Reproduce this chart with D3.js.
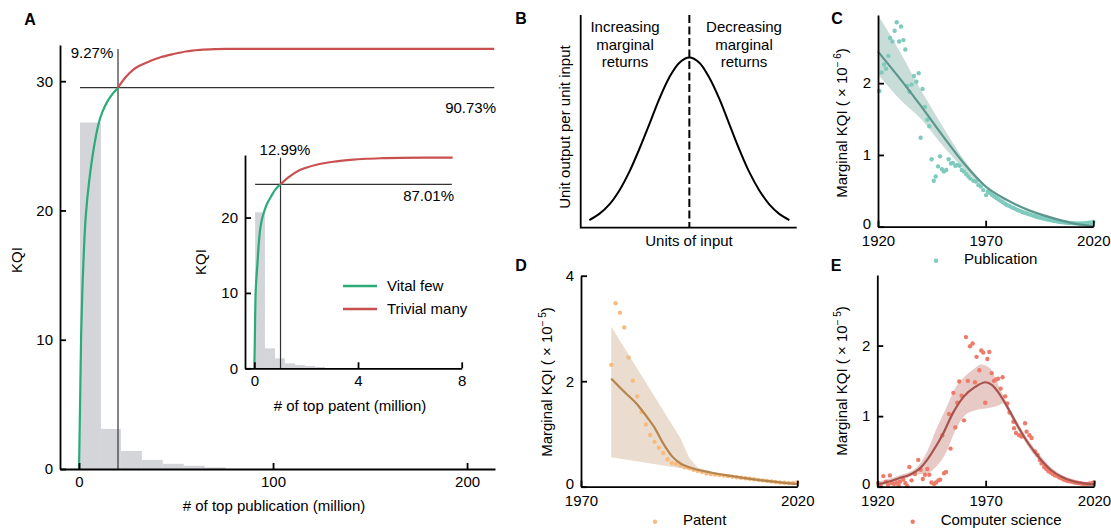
<!DOCTYPE html>
<html><head><meta charset="utf-8">
<script src="https://cdn.jsdelivr.net/npm/d3@7"></script>
<style>
body{margin:0;background:#fff;}
svg text{font-family:"Liberation Sans",Arial,Helvetica,sans-serif;fill:#000;}
</style></head><body>
<svg id="chart" width="1111" height="529"></svg>
<script>
// ---------------- DATA ----------------
// Panel A (main: publications)
const aXTicks = [0, 100, 200];
const aYTicks = [0, 10, 20, 30];
const aBinEdges = [0.5, 11.3, 21.6, 32.4, 43.2, 54.0, 64.8, 75.6];
const aBinHeights = [26.8, 3.1, 1.4, 0.7, 0.4, 0.25, 0.12];
const aVitalFew = [[0,0],[0.5,4.6],[1.05,10],[1.4,12],[1.9,14.6],[2.6,17.2],[3.6,19.8],[5.3,22.35],[7.7,24.9],[9.9,26.6],[12,27.6],[14.5,28.4],[17.2,29.0],[20.1,29.5]];
const aTrivialMany = [[20.1,29.5],[24,30.3],[28,30.9],[32,31.25],[36.6,31.55],[42,31.85],[48.6,32.1],[55,32.3],[62.4,32.42],[70,32.48],[76,32.5],[100,32.5],[150,32.5],[214,32.5]];
const aCut = {x: 20.1, y: 29.5};
const aLabels = ["9.27%", "90.73%"];
// Panel A inset (patents)
const iXTicks = [0, 4, 8];
const iYTicks = [0, 10, 20];
const iBinEdges = [0.03, 0.41, 0.80, 1.18, 1.57, 1.95, 2.34, 2.72];
const iBinHeights = [20.7, 2.65, 1.32, 0.66, 0.44, 0.3, 0.18];
const iVitalFew = [[0,0],[0.02,4],[0.05,10],[0.08,12],[0.12,13.9],[0.16,16],[0.22,18.3],[0.29,19.7],[0.37,20.7],[0.5,21.9],[0.63,22.7],[0.83,23.8],[1.01,24.4]];
const iTrivialMany = [[1.01,24.4],[1.3,25.3],[1.76,26.3],[2.4,27.0],[3.04,27.4],[3.7,27.65],[4.32,27.8],[5,27.88],[5.6,27.93],[7.65,27.95]];
const iCut = {x: 1.01, y: 24.4};
const iLabels = ["12.99%", "87.01%"];
const legendNames = ["Vital few", "Trivial many"];
// Panel B (concept curve)
const bX = [0.40,0.86,1.33,1.79,2.25,2.71,3.18,3.64,4.10,4.57,5.03,5.49,5.95,6.42,6.88,7.34,7.80,8.27,8.73,9.19,9.66];
const bY = [0.045,0.081,0.137,0.219,0.328,0.461,0.609,0.757,0.883,0.970,1,0.970,0.883,0.757,0.609,0.461,0.328,0.219,0.137,0.081,0.045];
const bPeak = 5.03;
const bLeftText = ["Increasing", "marginal", "returns"];
const bRightText = ["Decreasing", "marginal", "returns"];
// Panel C (publication)
const cXTicks = [1920, 1970, 2020];
const cYTicks = [0, 1, 2];
const cPoints = [[1920.6,1.89],[1921.7,2.15],[1922.8,2.26],[1923.7,2.20],[1924.8,2.38],[1925.6,2.63],[1926.7,2.58],[1927.7,2.73],[1928.7,2.85],[1929.8,2.58],[1930.7,2.79],[1931.8,2.60],[1932.7,2.47],[1933.6,1.96],[1934.6,1.88],[1935.6,1.98],[1936.7,2.10],[1937.8,2.02],[1938.9,2.14],[1939.8,1.24],[1940.7,1.92],[1941.8,1.67],[1942.9,1.49],[1943.8,1.40],[1944.9,0.94],[1945.9,0.64],[1946.8,0.70],[1947.9,0.84],[1948.8,0.98],[1949.7,0.80],[1950.6,0.77],[1951.7,0.79],[1952.8,0.94],[1953.9,0.88],[1954.8,0.89],[1955.9,0.85],[1956.8,0.86],[1957.9,0.85],[1958.9,0.79],[1959.9,0.77],[1961,0.73],[1962,0.70],[1962.9,0.67],[1964.3,0.64],[1965.5,0.63],[1966.6,0.58],[1967.8,0.56],[1968.9,0.51],[1970.2,0.44],
[1971,0.49],[1972,0.47],[1973,0.44],[1974,0.42],[1975,0.40],[1976,0.38],[1977,0.36],[1978,0.34],[1979,0.32],[1980,0.30],[1981,0.29],[1982,0.27],[1983,0.26],[1984,0.245],[1985,0.23],[1986,0.22],[1987,0.205],[1988,0.195],[1989,0.185],[1990,0.175],[1991,0.165],[1992,0.155],[1993,0.145],[1994,0.135],[1995,0.128],[1996,0.12],[1997,0.112],[1998,0.105],[1999,0.098],[2000,0.092],[2001,0.086],[2002,0.08],[2003,0.075],[2004,0.07],[2005,0.066],[2006,0.062],[2007,0.058],[2008,0.055],[2009,0.052],[2010,0.05],[2011,0.048],[2012,0.047],[2013,0.046],[2014,0.046],[2015,0.047],[2016,0.049],[2017,0.052],[2018,0.056],[2019,0.06],[2020,0.066]];
const cFit = [[1920,2.44],[1930,2.07],[1940,1.68],[1950,1.27],[1960,0.88],[1970,0.56],[1980,0.37],[1990,0.23],[2000,0.13],[2010,0.05],[2020,0.01]];
const cBandYears = [1920,1930,1940,1950,1960,1970,1980,1990,2000,2010,2020];
const cBandLo = [2.12,1.78,1.50,1.13,0.80,0.54,0.35,0.21,0.11,0.03,0.0];
const cBandHi = [2.95,2.45,1.90,1.40,0.93,0.58,0.39,0.25,0.15,0.07,0.04];
// Panel D (patent)
const dXTicks = [1970, 2020];
const dYTicks = [0, 2, 4];
const dPoints = [[1977,2.31],[1978,3.48],[1979,3.30],[1980,3.02],[1981,2.45],[1982,2.01],[1983,1.71],[1984,1.42],[1985,1.18],[1986,0.98],[1987,0.85],[1988,0.74],[1989,0.64],[1990,0.52],[1991,0.45],[1992,0.43],[1993,0.40],[1994,0.37],[1995,0.35],[1996,0.32],[1997,0.30],[1998,0.28],[1999,0.25],[2000,0.24],[2001,0.23],[2002,0.22],[2003,0.21],[2004,0.20],[2005,0.19],[2006,0.18],[2007,0.17],[2008,0.16],[2009,0.15],[2010,0.14],[2011,0.13],[2012,0.12],[2013,0.11],[2014,0.10],[2015,0.09],[2016,0.08],[2017,0.075],[2018,0.07],[2019,0.07],[2020,0.08]];
const dFit = [[1977,2.05],[1980,1.80],[1983,1.56],[1985,1.35],[1987,1.12],[1989,0.82],[1991,0.58],[1993,0.44],[1995,0.37],[2000,0.27],[2005,0.20],[2010,0.14],[2015,0.09],[2020,0.05]];
const dBandYears = [1977,1993,1995,1997,2000,2010,2020];
const dBandLo = [0.56,0.35,0.32,0.29,0.25,0.13,0.04];
const dBandHi = [3.03,0.92,0.55,0.36,0.29,0.15,0.07];
// Panel E (computer science)
const eXTicks = [1920, 1970, 2020];
const eYTicks = [0, 1, 2];
const ePoints = [[1920.5,0.05],[1921.5,0.03],[1922.8,0.15],[1924,0.07],[1925,0.03],[1925.8,0.16],[1926.8,0.05],[1927.7,0.04],[1928.9,0.06],[1929.8,0.02],[1930.5,0.07],[1932,0.10],[1933,0.05],[1933.8,0.01],[1934.8,0.28],[1935.8,0.09],[1937.4,0.18],[1938.9,0.38],[1940,0.24],[1941,0.11],[1942,0.17],[1943.1,0.25],[1944,0.17],[1945,0.06],[1946.2,0.04],[1947.1,0.06],[1948.2,0.09],[1949,0.10],[1950,0.73],[1950.8,0.19],[1951.7,0.21],[1953.1,1.03],[1953.8,0.54],[1955.1,1.33],[1956,0.84],[1956.9,1.19],[1957.8,1.49],[1958.9,1.29],[1960,0.94],[1960.9,2.12],[1961.8,1.50],[1962.8,1.99],[1964,2.03],[1965.1,1.48],[1965.8,1.84],[1967.1,1.65],[1968,1.93],[1968.9,1.90],[1969.8,1.19],[1970.8,1.81],[1971.7,1.91],[1972.8,1.61],[1973.8,1.50],[1974.8,1.52],[1975.7,1.53],[1976.9,1.39],[1977.8,1.55],[1979,1.28],[1980,1.18],[1981,1.05],[1982.8,0.92],[1983.1,0.83],[1984,0.76],[1985.5,0.73],[1986.6,0.71],[1988.2,0.90],[1988.9,0.78],[1990.2,0.73],[1991.2,0.69],[1992.8,0.50],[1994,0.45],[1995,0.38],[1995.8,0.33],[1997,0.28],[1998,0.25],[1999,0.22],[2000,0.20],[2001,0.18],[2002,0.16],[2003,0.15],[2004,0.13],[2005,0.12],[2006,0.10],[2007,0.09],[2008,0.08],[2009,0.075],[2010,0.07],[2011,0.06],[2012,0.055],[2013,0.05],[2014,0.045],[2015,0.04],[2016,0.04],[2017,0.04],[2018,0.045],[2019,0.05],[2020,0.06]];
const eFit = [[1920,0.03],[1925,0.07],[1930,0.12],[1935,0.17],[1938,0.22],[1940,0.27],[1943,0.38],[1946,0.52],[1950,0.73],[1955,1.05],[1960,1.28],[1965,1.41],[1970,1.48],[1973,1.44],[1976,1.33],[1980,1.13],[1985,0.85],[1990,0.60],[1995,0.40],[2000,0.24],[2005,0.14],[2010,0.08],[2015,0.05],[2020,0.03]];
const eBandYears = [1920,1930,1938,1943,1947,1952,1956,1960,1965,1968,1972,1975,1978,1980,1985,1990,1995,2000,2005,2010,2015,2020];
const eBandLo = [0.0,0.08,0.17,0.19,0.28,0.50,0.80,1.00,1.08,1.10,1.12,1.14,1.18,1.08,0.80,0.55,0.36,0.21,0.11,0.06,0.03,0.01];
const eBandHi = [0.07,0.16,0.27,0.50,0.80,1.13,1.40,1.55,1.68,1.73,1.68,1.50,1.30,1.18,0.90,0.65,0.45,0.28,0.17,0.11,0.07,0.05];

// ---------------- DRAWING ----------------
const svg = d3.select("#chart");
const FS = 15;
const GREEN = "#2aab78", RED = "#c9504f", BAR = "#d3d5d9", REF = "#333";

function styleAxis(g, w) {
  g.selectAll(".domain").attr("stroke", "#000").attr("stroke-width", w);
  g.selectAll(".tick line").attr("stroke", "#000").attr("stroke-width", w);
  g.selectAll(".tick text").attr("font-size", FS).attr("fill", "#000")
    .attr("font-family", '"Liberation Sans",Arial,Helvetica,sans-serif');
}
function axes(x, y, xt, yt, pad, liftZero) {
  const gx = svg.append("g").attr("transform", `translate(0,${y.range()[0]})`)
    .call(d3.axisBottom(x).tickValues(xt).tickSize(-6).tickSizeOuter(0).tickPadding(liftZero ? 9 : pad).tickFormat(d3.format("d")));
  const gy = svg.append("g").attr("transform", `translate(${x.range()[0]},0)`)
    .call(d3.axisLeft(y).tickValues(yt).tickSize(-6).tickSizeOuter(0).tickPadding(pad).tickFormat(d3.format("d")));
  styleAxis(gx, 1.8); styleAxis(gy, 1.8);
  if (liftZero) gy.selectAll(".tick text").filter(d => d === 0).attr("dy", "0.12em");
}
function txt(x, y, s, opt = {}) {
  const t = svg.append("text").attr("x", x).attr("y", y).attr("font-size", opt.fs || FS)
    .attr("text-anchor", opt.anchor || "middle").attr("dy", "0.35em").text(s);
  if (opt.bold) t.attr("font-weight", "bold");
  if (opt.rot) t.attr("transform", `rotate(-90,${x},${y})`);
  return t;
}
function ylabel(x, y, exp) {
  const t = svg.append("text").attr("x", x).attr("y", y).attr("font-size", FS)
    .attr("text-anchor", "middle").attr("dy", "0.35em")
    .attr("transform", `rotate(-90,${x},${y})`);
  t.append("tspan").text("Marginal KQI ( \u00d7 10");
  t.append("tspan").attr("dy", -6).attr("font-size", 10).text("\u2212 " + exp);
  t.append("tspan").attr("dy", 6).text(")");
}
const smooth = d3.curveCatmullRom.alpha(0.5);

// ----- Panel A main -----
(function () {
  const x = d3.scaleLinear().domain([-9.8, 214.4]).range([60, 495]);
  const y = d3.scaleLinear().domain([0, 32.8]).range([469, 45]);
  const bins = aBinHeights.map((h, i) => ({x0: aBinEdges[i], x1: aBinEdges[i + 1], h}));
  svg.append("g").selectAll("rect").data(bins).join("rect")
    .attr("x", d => x(d.x0)).attr("width", d => x(d.x1) - x(d.x0))
    .attr("y", d => y(d.h)).attr("height", d => y(0) - y(d.h)).attr("fill", BAR);
  svg.append("line").attr("x1", x(aCut.x)).attr("x2", x(aCut.x)).attr("y1", y(32.5)).attr("y2", y(0))
    .attr("stroke", REF).attr("stroke-width", 1.2);
  svg.append("line").attr("x1", x(aBinEdges[0])).attr("x2", x(214)).attr("y1", y(aCut.y)).attr("y2", y(aCut.y))
    .attr("stroke", REF).attr("stroke-width", 1.2);
  const line = d3.line().x(d => x(d[0])).y(d => y(d[1])).curve(smooth);
  svg.append("path").attr("d", line(aVitalFew)).attr("fill", "none").attr("stroke", GREEN).attr("stroke-width", 2.2);
  svg.append("path").attr("d", line(aTrivialMany)).attr("fill", "none").attr("stroke", RED).attr("stroke-width", 2.2);
  axes(x, y, aXTicks, aYTicks, 7, false);
  txt(92, 53, aLabels[0]);
  txt(496, 108, aLabels[1], {anchor: "end"});
  txt(17, 260, "KQI", {rot: true});
  txt(274, 506, "# of top publication (million)");
  txt(30, 19, "A", {bold: true, fs: 16});
})();

// ----- Panel A inset -----
(function () {
  const x = d3.scaleLinear().domain([-0.36, 8]).range([245, 461.7]);
  const y = d3.scaleLinear().domain([0, 28.3]).range([368.3, 155]);
  const bins = iBinHeights.map((h, i) => ({x0: iBinEdges[i], x1: iBinEdges[i + 1], h}));
  svg.append("g").selectAll("rect").data(bins).join("rect")
    .attr("x", d => x(d.x0)).attr("width", d => x(d.x1) - x(d.x0))
    .attr("y", d => y(d.h)).attr("height", d => y(0) - y(d.h)).attr("fill", BAR);
  svg.append("line").attr("x1", x(iCut.x)).attr("x2", x(iCut.x)).attr("y1", y(27.95)).attr("y2", y(0))
    .attr("stroke", REF).attr("stroke-width", 1.2);
  svg.append("line").attr("x1", x(iBinEdges[0])).attr("x2", x(7.62)).attr("y1", y(iCut.y)).attr("y2", y(iCut.y))
    .attr("stroke", REF).attr("stroke-width", 1.2);
  const line = d3.line().x(d => x(d[0])).y(d => y(d[1])).curve(smooth);
  svg.append("path").attr("d", line(iVitalFew)).attr("fill", "none").attr("stroke", GREEN).attr("stroke-width", 2.2);
  svg.append("path").attr("d", line(iTrivialMany)).attr("fill", "none").attr("stroke", RED).attr("stroke-width", 2.2);
  axes(x, y, iXTicks, iYTicks, 7, false);
  txt(285, 150, iLabels[0]);
  txt(454, 196, iLabels[1], {anchor: "end"});
  txt(201, 262, "KQI", {rot: true});
  txt(350, 406, "# of top patent (million)");
  [GREEN, RED].forEach((c, i) => {
    svg.append("line").attr("x1", 343).attr("x2", 377).attr("y1", 286 + i * 23).attr("y2", 286 + i * 23)
      .attr("stroke", c).attr("stroke-width", 2.5);
    txt(387, 286 + i * 23, legendNames[i], {anchor: "start"});
  });
})();

// ----- Panel B -----
(function () {
  const x = d3.scaleLinear().domain([0, 10]).range([580.7, 796.7]);
  const y = d3.scaleLinear().domain([0, 1.25]).range([227.7, 15]);
  const pts = bX.map((v, i) => [v, bY[i]]);
  svg.append("path").attr("d", d3.line().x(d => x(d[0])).y(d => y(d[1])).curve(d3.curveCatmullRom)(pts))
    .attr("fill", "none").attr("stroke", "#000").attr("stroke-width", 2);
  svg.append("line").attr("x1", x(bPeak)).attr("x2", x(bPeak)).attr("y1", y(1.25)).attr("y2", y(0))
    .attr("stroke", "#000").attr("stroke-width", 2).attr("stroke-dasharray", "8,3.5");
  svg.append("path").attr("d", `M${x(0)},${y(1.25)}V${y(0)}H${x(10)}`).attr("fill", "none")
    .attr("stroke", "#000").attr("stroke-width", 1.8);
  bLeftText.forEach((s, i) => txt(625, 27 + i * 17.5, s));
  bRightText.forEach((s, i) => txt(744, 27 + i * 17.5, s));
  txt(565, 127, "Unit output per unit input", {rot: true});
  txt(689, 241, "Units of input");
  txt(521, 18, "B", {bold: true, fs: 16});
})();

function trendPanel(cfg) {
  const x = d3.scaleLinear().domain(cfg.xd).range(cfg.xr);
  const y = d3.scaleLinear().domain(cfg.yd).range(cfg.yr);
  const band = cfg.by.map((v, i) => ({t: v, lo: cfg.lo[i], hi: cfg.hi[i]}));
  svg.append("path").attr("d", d3.area().x(d => x(d.t)).y0(d => y(d.lo)).y1(d => y(d.hi)).curve(cfg.bandCurve)(band))
    .attr("fill", cfg.bandColor);
  svg.append("g").selectAll("circle").data(cfg.pts).join("circle")
    .attr("cx", d => x(d[0])).attr("cy", d => y(d[1])).attr("r", 2.2).attr("fill", cfg.dot);
  svg.append("path").attr("d", d3.line().x(d => x(d[0])).y(d => y(d[1])).curve(d3.curveMonotoneX)(cfg.fit))
    .attr("fill", "none").attr("stroke", cfg.lineColor).attr("stroke-width", 2.2);
  axes(x, y, cfg.xt, cfg.yt, 7, true);
  ylabel(cfg.ylx, cfg.yly, cfg.exp);
  svg.append("circle").attr("cx", cfg.legX).attr("cy", cfg.legY).attr("r", 2.2).attr("fill", cfg.dot);
  txt(cfg.legX + 28, cfg.legY - 2, cfg.name, {anchor: "start"});
  txt(cfg.lx, cfg.ly, cfg.letter, {bold: true, fs: 16});
}

trendPanel({xd: [1920, 2020], xr: [878, 1093.3], yd: [0, 2.95], yr: [226.7, 15], xt: cXTicks, yt: cYTicks,
  pts: cPoints, fit: cFit, by: cBandYears, lo: cBandLo, hi: cBandHi, bandCurve: d3.curveMonotoneX,
  dot: "#7ecbbd", lineColor: "#5b968d", bandColor: "#c9ddd8", ylx: 842, yly: 123, exp: "6",
  legX: 936, legY: 260.7, name: "Publication", letter: "C", lx: 837, ly: 18});

trendPanel({xd: [1970, 2020], xr: [581, 797.3], yd: [0, 4], yr: [486.7, 275.7], xt: dXTicks, yt: dYTicks,
  pts: dPoints, fit: dFit, by: dBandYears, lo: dBandLo, hi: dBandHi, bandCurve: d3.curveLinear,
  dot: "#f7bb7e", lineColor: "#b5854d", bandColor: "#eadcce", ylx: 547, yly: 382, exp: "5",
  legX: 655, legY: 521.7, name: "Patent", letter: "D", lx: 521, ly: 265});

trendPanel({xd: [1920, 2020], xr: [877.3, 1094], yd: [0, 3.0], yr: [486.7, 275], xt: eXTicks, yt: eYTicks,
  pts: ePoints, fit: eFit, by: eBandYears, lo: eBandLo, hi: eBandHi, bandCurve: d3.curveMonotoneX,
  dot: "#ee7b6a", lineColor: "#a6524d", bandColor: "#e7c9c6", ylx: 842, yly: 381, exp: "5",
  legX: 912.7, legY: 521.7, name: "Computer science", letter: "E", lx: 836, ly: 265});
</script>
</body></html>
